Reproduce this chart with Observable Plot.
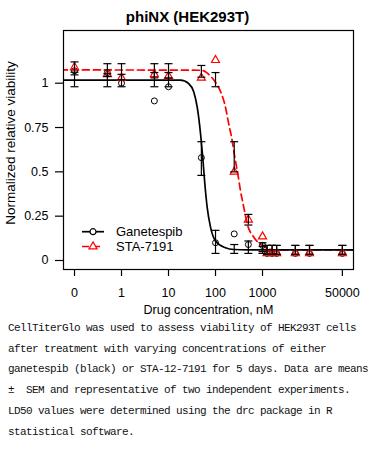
<!DOCTYPE html>
<html><head><meta charset="utf-8">
<script src="https://cdn.jsdelivr.net/npm/d3@7"></script>
<script src="https://cdn.jsdelivr.net/npm/@observablehq/plot@0.6"></script>
<style>
body{margin:0;background:#fff;width:375px;height:450px;overflow:hidden;position:relative;font-family:"Liberation Sans",Arial,sans-serif;}
#chart{position:absolute;top:0;left:0;}
#title{position:absolute;top:9px;left:0;width:375px;text-align:center;font:bold 15px/15px "Liberation Sans",Arial,sans-serif;color:#000;}
#caption{position:absolute;top:318px;left:8px;font:11px/20.7px "Liberation Mono",monospace;letter-spacing:-0.6px;white-space:pre;color:#111;}
</style></head><body>
<div id="chart"></div>
<div id="title">phiNX (HEK293T)</div>
<div id="caption"></div>
<script>
// ---- data ----
const conc = [0, 0.5, 1, 5, 10, 50, 100, 250, 500, 1000, 1250, 1600, 2000, 5000, 10000, 50000];
const ganetespib   = [1.07, 1.06, 1.00, 0.90, 0.98, 0.58, 0.10, 0.15, 0.09, 0.085, 0.04, 0.04, 0.04, 0.04, 0.04, 0.04];
const ganetespibLo = [0.98, 0.98, 0.98, 0.98, 0.98, 0.48, 0.04, 0.04, 0.04, 0.04, 0.035, 0.035, 0.035, 0.035, 0.035, 0.035];
const ganetespibHi = [1.12, 1.11, 1.11, 1.11, 1.11, 0.67, 0.17, 0.09, 0.11, 0.08, 0.085, 0.085, 0.085, 0.085, 0.085, 0.085];
const sta7191      = [1.09, 1.05, 1.03, 1.05, 1.04, 1.03, 1.13, 0.50, 0.23, 0.135, 0.04, 0.04, 0.04, 0.04, 0.04, 0.04];
const sta7191Lo    = [1.047, 1.038, 1.02, 1.03, 1.03, 1.034, 0.98, 0.50, 0.20, 0.05, 0.035, 0.035, 0.035, 0.035, 0.035, 0.035];
const sta7191Hi    = [1.062, 1.053, 1.05, 1.06, 1.06, 1.10, 1.06, 0.67, 0.26, 0.10, 0.085, 0.085, 0.085, 0.085, 0.085, 0.085];

// fitted curves
const ganetespibCurveX = [0.05, 18, 27, 34.5, 40.8, 48, 53.7, 59.2, 66.5, 78.3, 100, 163, 245, 500, 100000];
const ganetespibCurveY = [1.017, 1.017, 0.997, 0.95, 0.865, 0.716, 0.575, 0.434, 0.30, 0.188, 0.11, 0.072, 0.062, 0.06, 0.06];
const staCurveX = [0.05, 50, 61, 78, 100, 127, 163, 191, 226, 257, 298, 339, 400, 472, 653, 984, 1740, 100000];
const staCurveY = [1.075, 1.073, 1.065, 1.04, 1.005, 0.955, 0.865, 0.771, 0.677, 0.583, 0.489, 0.395, 0.30, 0.207, 0.131, 0.085, 0.06, 0.06];

const xTickValues = [0, 1, 10, 100, 1000, 50000];
const xTickLabels = ["0", "1", "10", "100", "1000", "50000"];
const yTickValues = [0, 0.25, 0.5, 0.75, 1];
const yTickLabels = ["0", "0.25", "0.5", "0.75", "1"];
const seriesNames = ["Ganetespib", "STA-7191"];
const zeroDose = 0.1; // position where dose 0 is drawn on the log axis

const captionLines = [
  "CellTiterGlo was used to assess viability of HEK293T cells",
  "after treatment with varying concentrations of either",
  "ganetespib (black) or STA-12-7191 for 5 days. Data are means",
  "\u00b1  SEM and representative of two independent experiments.",
  "LD50 values were determined using the drc package in R",
  "statistical software."
];

// ---- build ----
const pos = c => c === 0 ? zeroDose : c;
const gRows = conc.map((c, i) => ({x: pos(c), y: ganetespib[i], lo: ganetespibLo[i], hi: ganetespibHi[i]}));
const sRows = conc.map((c, i) => ({x: pos(c), y: sta7191[i], lo: sta7191Lo[i], hi: sta7191Hi[i]}));
const gCurve = ganetespibCurveX.map((x, i) => ({x, y: ganetespibCurveY[i]}));
const sCurve = staCurveX.map((x, i) => ({x, y: staCurveY[i]}));
const allBars = gRows.concat(sRows);
const xTicks = xTickValues.map((v, i) => ({x: pos(v), label: xTickLabels[i]}));

const cap = {draw(ctx, size) { const r = Math.sqrt(size / Math.PI); ctx.moveTo(-r, 0); ctx.lineTo(r, 0); }};
const RED = "#ff0000";
const dash = "7,4";

const chart = Plot.plot({
  width: 375, height: 320,
  marginLeft: 63, marginRight: 22, marginTop: 30, marginBottom: 51,
  style: {fontFamily: '"Liberation Sans", Arial, sans-serif', fontSize: "12px", color: "black", background: "white", overflow: "visible"},
  x: {type: "log", domain: [0.0583, 86300]},
  y: {domain: [-0.0508, 1.2972]},
  marks: [
    Plot.axisX({ticks: xTicks.map(d => d.x), tickFormat: () => "", tickSize: 7, label: null, strokeWidth: 1.2}),
    Plot.text(xTicks, {x: "x", text: "label", frameAnchor: "bottom", lineAnchor: "top", dy: 19, fontSize: 12.5}),
    Plot.axisY({ticks: yTickValues, tickFormat: (d) => yTickLabels[yTickValues.indexOf(d)], tickSize: 8, tickPadding: 7, label: null, fontSize: 12.5, strokeWidth: 1.2}),
    Plot.text(["Drug concentration, nM"], {frameAnchor: "bottom", lineAnchor: "middle", textAnchor: "middle", dy: 40, text: d => d, fontSize: 12.5}),
    Plot.text(["Normalized relative viability"], {frameAnchor: "left", textAnchor: "middle", lineAnchor: "middle", dx: -53, dy: -7, rotate: -90, text: d => d, fontSize: 13.5}),
    Plot.line(sCurve, {x: "x", y: "y", stroke: RED, strokeWidth: 1.7, strokeDasharray: dash, curve: "monotone-x", clip: true}),
    Plot.line(gCurve, {x: "x", y: "y", stroke: "black", strokeWidth: 1.7, curve: "monotone-x", clip: true}),
    Plot.dot(gRows, {x: "x", y: "y", r: 3, stroke: "black", fill: "none", strokeWidth: 1}),
    Plot.dot(sRows, {x: "x", y: "y", r: 3, symbol: "triangle", stroke: RED, fill: "none", strokeWidth: 1.2}),
    Plot.ruleX(allBars, {x: "x", y1: "lo", y2: "hi", stroke: "black", strokeWidth: 1.2}),
    Plot.dot(allBars, {x: "x", y: "lo", r: 4, symbol: cap, stroke: "black", fill: "none", strokeWidth: 1.2}),
    Plot.dot(allBars, {x: "x", y: "hi", r: 4, symbol: cap, stroke: "black", fill: "none", strokeWidth: 1.2}),
    Plot.frame({stroke: "black", strokeWidth: 1.2})
  ]
});
document.getElementById("chart").appendChild(chart);

// legend (inside plot, bottom-left)
const svg = d3.select(chart);
const lg = svg.append("g").attr("font-size", 13).attr("text-anchor", "start")
  .attr("font-family", '"Liberation Sans", Arial, sans-serif');
[[231.7, "black", null, d3.symbolCircle], [246.5, RED, dash, d3.symbolTriangle]].forEach(([yy, col, da, sym], i) => {
  lg.append("line").attr("x1", 82).attr("x2", 104).attr("y1", yy).attr("y2", yy)
    .attr("stroke", col).attr("stroke-width", 1.7).attr("stroke-dasharray", da);
  lg.append("path").attr("transform", `translate(93,${yy})`)
    .attr("d", d3.symbol(sym, Math.PI * 9)())
    .attr("fill", "white").attr("stroke", col).attr("stroke-width", 1.2);
  lg.append("text").attr("x", 116).attr("y", yy).attr("dy", "0.35em").attr("fill", "black")
    .attr("text-anchor", "start").text(seriesNames[i]);
});

// caption
document.getElementById("caption").textContent = captionLines.join("\n");
</script></body></html>
